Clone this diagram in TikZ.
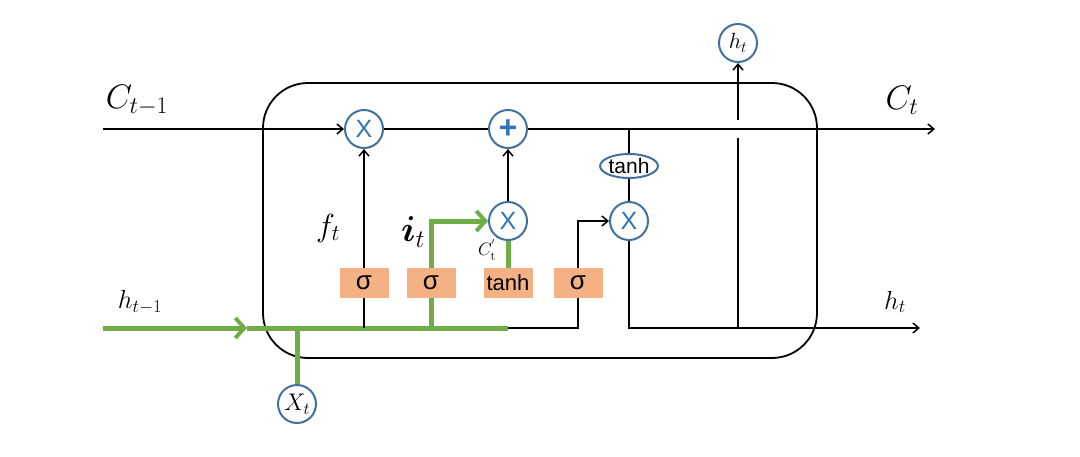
\RequirePackage{fix-cm}
\documentclass[tikz,border=0pt]{standalone}
\usepackage{amsmath}
\usepackage{fontspec}
\newfontfamily\arialf{Liberation Sans}
\usetikzlibrary{arrows.meta,shapes.geometric}
\definecolor{gatefill}{HTML}{F4B183}
\definecolor{opline}{HTML}{41719C}
\definecolor{optext}{HTML}{2E75B6}
\definecolor{hgreen}{HTML}{70AD47}
\tikzset{
  op/.style={circle,draw=opline,line width=2pt,fill=white,minimum size=38pt,inner sep=0pt,
    text=optext,font=\arialf\fontsize{25}{27}\selectfont},
  gate/.style={fill=gatefill,minimum width=49pt,minimum height=30pt,inner sep=0pt,
    font=\arialf\fontsize{22}{24}\selectfont},
  sgate/.style={gate,font=\arialf\fontsize{26}{28}\selectfont},
  wire/.style={line width=1.5pt},
  warrow/.style={wire,-{Straight Barb[length=6pt,width=10pt]}},
  gwire/.style={draw=hgreen,line width=5pt},
  garrow/.style={gwire,-{Straight Barb[length=9pt,width=20pt,line width=4pt]}},
  lbl/.style={font=\fontsize{26}{28}\selectfont}
}
\begin{document}
\begin{tikzpicture}[x=1pt,y=-1pt]
\useasboundingbox (0,0) rectangle (1080,456);
% cell border
\draw[line width=1.8pt,rounded corners=45pt] (263,83) rectangle (817,358);
% operators on the cell line
\node[op] (fmul) at (364,129) {X};
\node[op,font=\arialf\bfseries\fontsize{32}{34}\selectfont] (add) at (508,129) {+};
\node[ellipse,draw=opline,line width=2pt,fill=white,minimum width=56pt,minimum height=24pt,inner sep=0pt,
  font=\arialf\fontsize{21}{23}\selectfont] (ctanh) at (629,166) {tanh};
\node[op] (imul) at (508,221) {X};
\node[op] (omul) at (629,221) {X};
% gates
\node[sgate] (sg1) at (364,283) {σ};
\node[sgate] (sg2) at (431,283) {σ};
\node[gate] (tnh) at (508,283) {tanh};
\node[sgate] (sg3) at (578,283) {σ};
% inputs and outputs
\node[op,text=black,font=\fontsize{24}{26}\selectfont] (xt) at (297,404) {$X_t$};
\node[op,text=black,font=\fontsize{22}{24}\selectfont] (htop) at (738,43) {$h_t$};
\coordinate (cin) at (103,129);
\coordinate (cout) at (935,129);
\coordinate (cj) at (629,129);
\coordinate (hin) at (103,328);
\coordinate (harr) at (247,328);
\coordinate (hmid) at (508,328);
\coordinate (hj) at (738,328);
\coordinate (hout) at (920,328);
\coordinate (gapb) at (738,138);
\coordinate (gapt) at (738,120);
% cell state line
\draw[warrow] (cin) -- (fmul);
\draw[wire] (fmul) -- (add);
\draw[warrow] (add) -- (cout);
\draw[wire] (cj) -- (ctanh);
\draw[wire] (ctanh) -- (omul);
% hidden state in (green)
\draw[garrow] (hin) -- (harr);
\draw[gwire] (harr) -- (hmid);
\draw[gwire] (xt) -- (xt |- hin);
\draw[gwire] (sg2.south |- hin) -- (sg2.south);
\draw[garrow] (sg2.north) |- (imul.west);
\draw[gwire] (tnh) -- (imul);
% black wires
\draw[wire] (sg1.south |- hin) -- (sg1.south);
\draw[warrow] (sg1) -- (fmul);
\draw[warrow] (imul) -- (add);
\draw[wire] (hmid) -| (sg3.south);
\draw[warrow] (sg3.north) |- (omul.west);
\draw[warrow] (omul.south) |- (hout);
\draw[wire] (hj) -- (gapb);
\draw[warrow] (gapt) -- (htop);
% labels
\node[font=\fontsize{34}{36}\selectfont] (lcin) at (137,100) {$C_{t-1}$};
\node[font=\fontsize{34}{36}\selectfont] (lcout) at (902,100) {$C_t$};
\node[lbl] (lhin) at (140,302) {$h_{t-1}$};
\node[lbl] (lhout) at (895,302) {$h_t$};
\node[font=\fontsize{32}{34}\selectfont] (lf) at (328,228) {$f_t$};
\node[font=\fontsize{36}{38}\selectfont] (li) at (413,232) {$\boldsymbol{i}_t$};
\node[font=\fontsize{18}{20}\selectfont] (lcp) at (487,250) {$C^{'}_{\mathrm{t}}$};
\end{tikzpicture}
\end{document}
